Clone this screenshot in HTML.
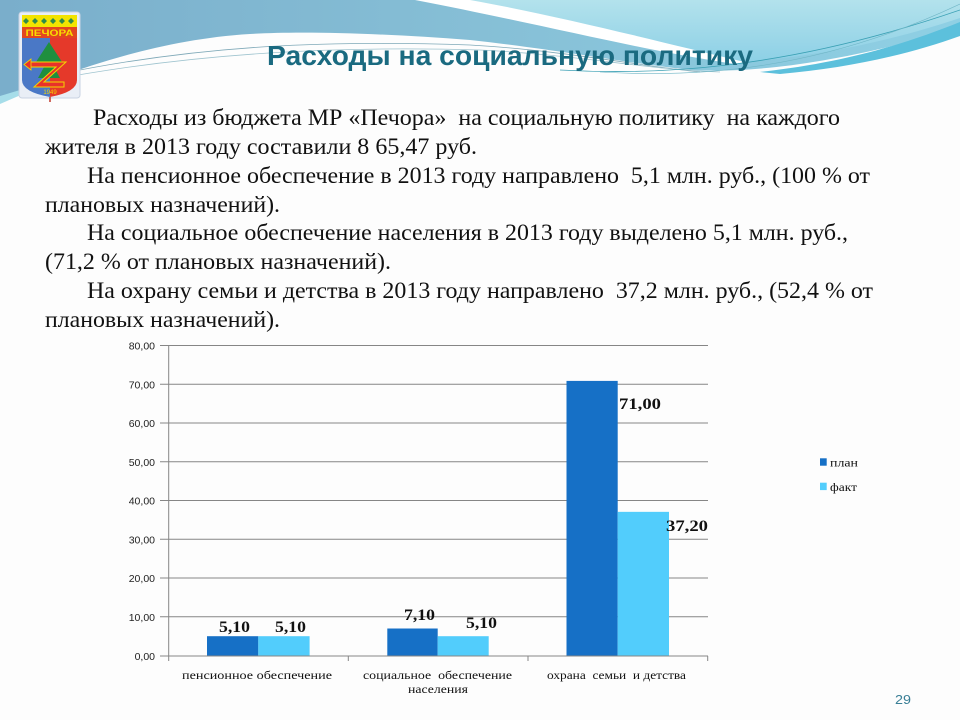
<!DOCTYPE html>
<html><head><meta charset="utf-8"><style>
html,body{margin:0;padding:0;background:#fff;}
svg{display:block;}
</style></head><body>
<svg width="960" height="720" viewBox="0 0 960 720" xmlns="http://www.w3.org/2000/svg">
<defs>
<linearGradient id="gA" x1="0" y1="0" x2="1" y2="0">
<stop offset="0" stop-color="#7aaecb"/><stop offset="0.5" stop-color="#86bfd6"/><stop offset="1" stop-color="#8fd0e4"/>
</linearGradient>
<linearGradient id="gB" x1="0" y1="0" x2="0" y2="1">
<stop offset="0" stop-color="#b3e2ec"/><stop offset="1" stop-color="#8dd0e6"/>
</linearGradient>
</defs>
<rect width="960" height="720" fill="#fdfdfd"/>
<!-- top background -->
<path d="M0,0 H960 V28 C850,60 760,74 690,70 C620,62 560,50 470,40 C380,33 300,31 250,34 C150,40 60,75 0,100 Z" fill="url(#gA)"/>
<path d="M440,0 H960 V18 C900,38 830,55 745,62 C680,52 580,22 440,0 Z" fill="url(#gB)"/>
<path d="M415,0 L470,0 C560,16 660,42 745,62 L735,64 C640,50 540,24 415,0 Z" fill="#ffffff"/>
<path d="M760,72 C850,62 910,42 960,22 L960,36 C910,54 850,68 780,74 Z" fill="#5cc0dc"/>
<path d="M0,96 C20,90 40,84 60,78 L0,104 Z" fill="#a6dde9"/>
<path d="M60,74 C200,45 330,40 470,45 C560,50 640,66 700,72" fill="none" stroke="#7fa9b8" stroke-width="0.8"/>
<path d="M50,80 C200,52 340,46 480,50 C580,55 650,70 720,72" fill="none" stroke="#9fc4cf" stroke-width="0.8"/>
<path d="M560,70 C650,75 780,72 960,10" fill="none" stroke="#3aa0b4" stroke-width="0.8"/>
<path d="M600,72 C700,78 820,70 960,4" fill="none" stroke="#6fb6c6" stroke-width="0.6"/>

<!-- coat of arms -->
<rect x="19" y="12" width="61" height="86" rx="3" fill="#e9eef6" stroke="#c9d3e2"/>
<rect x="22" y="15" width="55" height="12" fill="#f2e400"/>
<g fill="#2f8a4a">
<path d="M26,18 l3,3 l-3,3 l-3,-3z M35,18 l3,3 l-3,3 l-3,-3z M44,18 l3,3 l-3,3 l-3,-3z M53,18 l3,3 l-3,3 l-3,-3z M62,18 l3,3 l-3,3 l-3,-3z M71,18 l3,3 l-3,3 l-3,-3z"/>
</g>
<rect x="22" y="27" width="55" height="11" fill="#e2461f"/>
<text x="49.5" y="36" font-family="Liberation Sans, sans-serif" font-size="9" font-weight="bold" fill="#f7dc00" text-anchor="middle" textLength="48" lengthAdjust="spacingAndGlyphs">ПЕЧОРА</text>
<path d="M22,38 H50 V97 Q22,92 22,80 Z" fill="#4a78c6"/>
<path d="M50,38 H77 V80 Q77,92 50,97 Z" fill="#e5392a"/>
<polygon points="49,42 36,62 62,62" fill="#1f8f3f"/>
<polygon points="49,58 38,78 60,78" fill="#1f8f3f"/>
<path d="M30,62 H66 L44,82 H64 V87 H34 L56,67 H30 Z" fill="#e8322a" stroke="#f3d600" stroke-width="1"/>
<polygon points="24,64.5 31,59 31,70" fill="#e8322a" stroke="#f3d600" stroke-width="0.8"/>
<text x="50" y="94" font-family="Liberation Sans, sans-serif" font-size="6" fill="#f3d600" text-anchor="middle">1949</text>
<line x1="50" y1="97" x2="50" y2="102" stroke="#c0392b" stroke-width="1.5"/>

<!-- title -->
<text x="267" y="65" font-family="Liberation Sans, sans-serif" font-size="28" font-weight="bold" fill="#1a6a80" textLength="486" lengthAdjust="spacingAndGlyphs">Расходы на социальную политику</text>

<!-- body text -->
<g font-family="Liberation Serif, serif" font-size="23" fill="#111">
<text x="93" y="125" textLength="747" lengthAdjust="spacingAndGlyphs" xml:space="preserve">Расходы из бюджета МР «Печора»  на социальную политику  на каждого</text>
<text x="45" y="154" textLength="432" lengthAdjust="spacingAndGlyphs">жителя в 2013 году составили 8 65,47 руб.</text>
<text x="87" y="183" textLength="783" lengthAdjust="spacingAndGlyphs" xml:space="preserve">На пенсионное обеспечение в 2013 году направлено  5,1 млн. руб., (100 % от</text>
<text x="45" y="212" textLength="235" lengthAdjust="spacingAndGlyphs">плановых назначений).</text>
<text x="87" y="240" textLength="761" lengthAdjust="spacingAndGlyphs">На социальное обеспечение населения в 2013 году выделено 5,1 млн. руб.,</text>
<text x="45" y="269" textLength="346" lengthAdjust="spacingAndGlyphs">(71,2 % от плановых назначений).</text>
<text x="87" y="298" textLength="786" lengthAdjust="spacingAndGlyphs" xml:space="preserve">На охрану семьи и детства в 2013 году направлено  37,2 млн. руб., (52,4 % от</text>
<text x="45" y="327" textLength="235" lengthAdjust="spacingAndGlyphs">плановых назначений).</text>
</g>

<!-- chart gridlines -->
<g stroke="#868686" stroke-width="1">
<line x1="160" y1="345.5" x2="708" y2="345.5"/>
<line x1="160" y1="384.25" x2="708" y2="384.25"/>
<line x1="160" y1="423" x2="708" y2="423"/>
<line x1="160" y1="461.75" x2="708" y2="461.75"/>
<line x1="160" y1="500.5" x2="708" y2="500.5"/>
<line x1="160" y1="539.25" x2="708" y2="539.25"/>
<line x1="160" y1="578" x2="708" y2="578"/>
<line x1="160" y1="616.75" x2="708" y2="616.75"/>
<line x1="168.7" y1="345.5" x2="168.7" y2="661"/>
<line x1="348.3" y1="656" x2="348.3" y2="661"/>
<line x1="528" y1="656" x2="528" y2="661"/>
<line x1="707.7" y1="656" x2="707.7" y2="661"/>
</g>
<!-- bars -->
<g>
<rect x="207" y="636.2" width="51.3" height="19.8" fill="#1670c6"/>
<rect x="258.3" y="636.2" width="51.3" height="19.8" fill="#52cdfc"/>
<rect x="387.3" y="628.5" width="50.4" height="27.5" fill="#1670c6"/>
<rect x="437.7" y="636.2" width="51" height="19.8" fill="#52cdfc"/>
<rect x="566.5" y="380.9" width="51.2" height="275.1" fill="#1670c6"/>
<rect x="617.7" y="511.85" width="51.3" height="144.15" fill="#52cdfc"/>
</g>
<line x1="160" y1="656" x2="708" y2="656" stroke="#868686" stroke-width="1"/>

<!-- tick labels -->
<g font-family="Liberation Sans, sans-serif" font-size="10.5" fill="#222" text-anchor="end">
<text x="155" y="349.5">80,00</text>
<text x="155" y="388.25">70,00</text>
<text x="155" y="427">60,00</text>
<text x="155" y="465.75">50,00</text>
<text x="155" y="504.5">40,00</text>
<text x="155" y="543.25">30,00</text>
<text x="155" y="582">20,00</text>
<text x="155" y="620.75">10,00</text>
<text x="155" y="660">0,00</text>
</g>

<!-- data labels -->
<g font-family="Liberation Serif, serif" font-size="16" font-weight="bold" fill="#111">
<text x="219" y="632" textLength="31" lengthAdjust="spacingAndGlyphs">5,10</text>
<text x="275" y="632" textLength="31" lengthAdjust="spacingAndGlyphs">5,10</text>
<text x="404" y="620" textLength="31" lengthAdjust="spacingAndGlyphs">7,10</text>
<text x="466" y="628" textLength="31" lengthAdjust="spacingAndGlyphs">5,10</text>
<text x="619" y="409" textLength="42" lengthAdjust="spacingAndGlyphs">71,00</text>
<text x="666" y="531" textLength="42" lengthAdjust="spacingAndGlyphs">37,20</text>
</g>

<!-- category labels -->
<g font-family="Liberation Serif, serif" font-size="12" fill="#111">
<text x="182" y="679" textLength="150" lengthAdjust="spacingAndGlyphs">пенсионное обеспечение</text>
<text x="363" y="679" textLength="149" lengthAdjust="spacingAndGlyphs" xml:space="preserve">социальное  обеспечение</text>
<text x="408" y="693" textLength="60" lengthAdjust="spacingAndGlyphs">населения</text>
<text x="547" y="679" textLength="139" lengthAdjust="spacingAndGlyphs" xml:space="preserve">охрана  семьи  и детства</text>
</g>

<!-- legend -->
<rect x="820" y="458.3" width="6.7" height="7.4" fill="#1670c6"/>
<rect x="820" y="482.7" width="6.7" height="7.4" fill="#52cdfc"/>
<g font-family="Liberation Serif, serif" font-size="12" fill="#111">
<text x="830" y="466.5" textLength="28" lengthAdjust="spacingAndGlyphs">план</text>
<text x="830" y="491" textLength="27" lengthAdjust="spacingAndGlyphs">факт</text>
</g>

<!-- page number -->
<text x="895" y="704" font-family="Liberation Sans, sans-serif" font-size="13" fill="#3a7f96" textLength="16" lengthAdjust="spacingAndGlyphs">29</text>
</svg>
</body></html>
